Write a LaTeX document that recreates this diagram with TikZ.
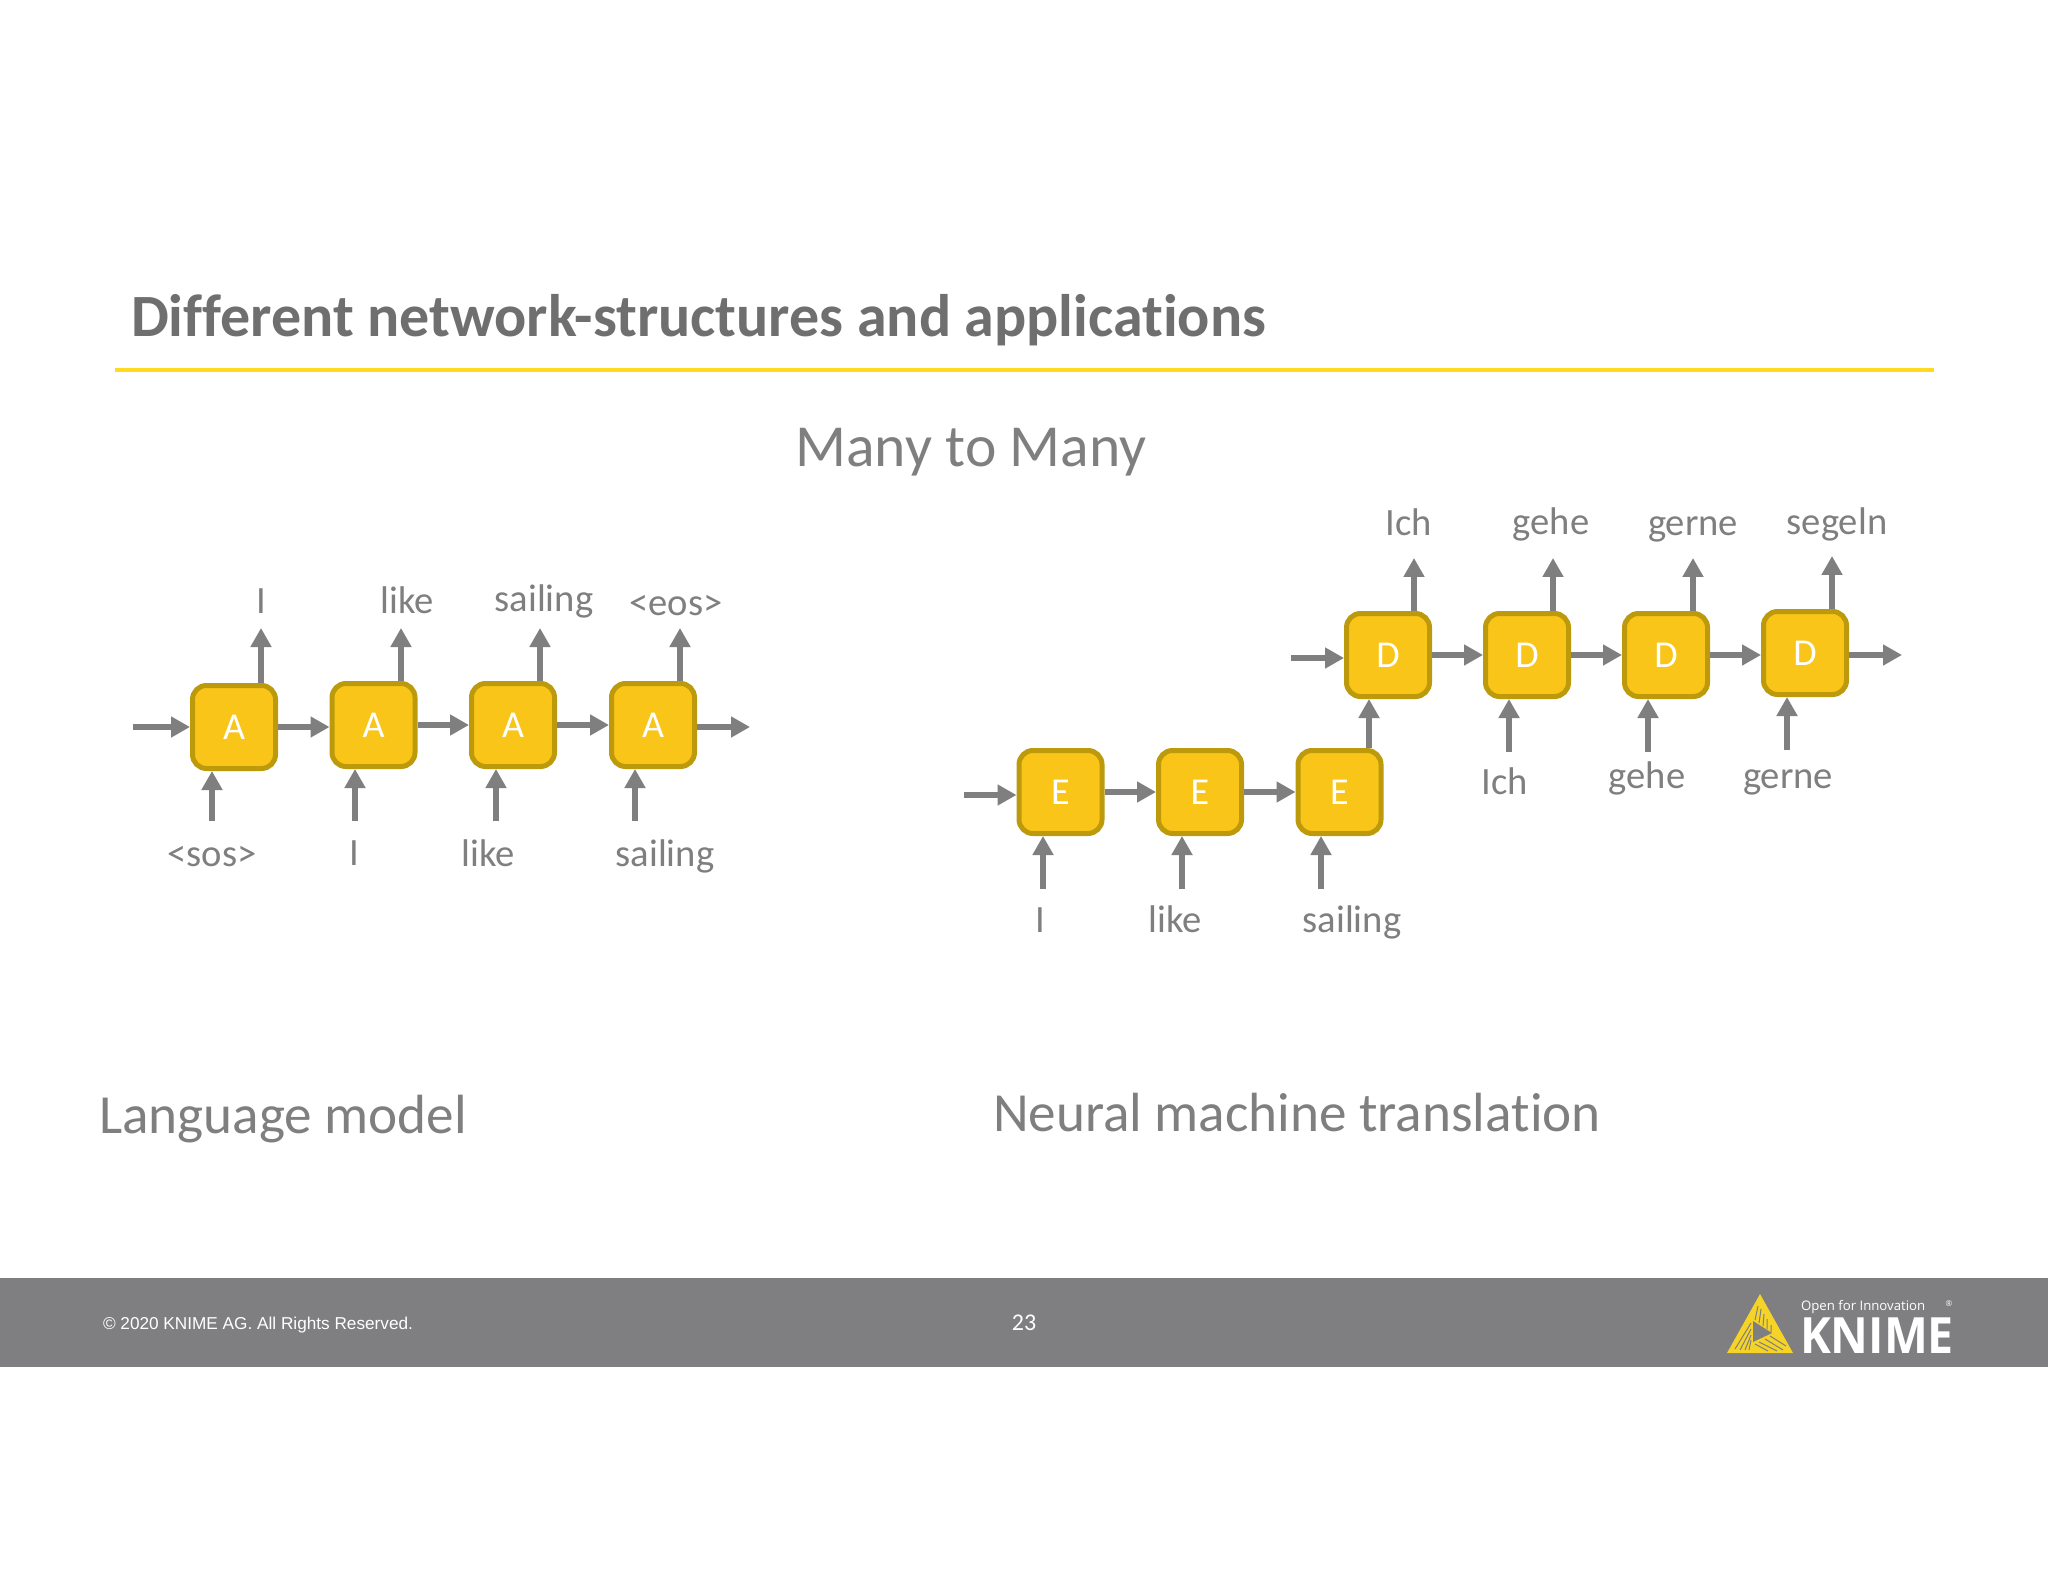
\documentclass[tikz,border=0pt]{standalone}
\usepackage{fontspec}
\setmainfont{Carlito}[Ligatures=NoCommon]
\newfontfamily\footfont{Liberation Sans}
\newfontfamily\logofont{Open Sans}
\newfontfamily\logoname{Open Sans}[FakeStretch=0.93]
\usetikzlibrary{arrows.meta,calc,positioning}
\definecolor{knimegray}{HTML}{7F7E80}
\definecolor{wordgray}{HTML}{7F7F7F}
\definecolor{titlegray}{HTML}{6F6F6F}
\definecolor{rulegold}{HTML}{FFDA1F}
\definecolor{boxfill}{HTML}{F9C518}
\definecolor{boxline}{HTML}{BD9A0C}
\definecolor{logogold}{HTML}{F5D327}

\begin{document}
\begin{tikzpicture}[x=0.5pt,y=-0.5pt,
  every node/.append style={inner sep=0pt,outer sep=0pt},
  cell/.style={draw=boxline,fill=boxfill,line width=2.5pt,rounded corners=7pt,
    minimum width=41.5pt,minimum height=41.5pt,outer sep=1.25pt,text=white,font=\fontsize{19}{19}\selectfont},
  flow/.style={draw=wordgray,line width=3.2pt,-{Triangle[length=9.5pt,width=10pt]}},
  word/.style={text=wordgray,font=\fontsize{19.3}{19.3}\selectfont,anchor=base},
  caption/.style={text=wordgray,font=\fontsize{27.6}{27.6}\selectfont,anchor=base west}]
  \useasboundingbox (0,0) rectangle (2048,1582);
  \fill[white] (0,0) rectangle (2048,1582);

  % slide head
  \node (title) [anchor=base west,text=titlegray,font=\fontsize{30}{30}\selectfont\bfseries] at (131,337) {Different network-structures and applications};
  \coordinate (rule_l) at (115,370);
  \coordinate (rule_r) at (1934,370);
  \draw[rulegold,line width=2pt] (rule_l) -- (rule_r);
  \node (many) [word,font=\fontsize{29.8}{29.8}\selectfont] at (971,467) {Many to Many};

  % language model
  \node (a_1) [cell] at (234,727) {A};
  \node (a_2) [cell] at (373.5,725) {A};
  \node (a_3) [cell] at (513,725) {A};
  \node (a_4) [cell] at (653,725) {A};
  \coordinate (a_in) at (133,727);
  \coordinate (a_out) at (750,727);
  \draw[flow] (a_in) -- (a_1);
  \draw[flow] (a_1.east) -- (a_2.west |- a_1.east);
  \draw[flow] (a_2) -- (a_3);
  \draw[flow] (a_3) -- (a_4);
  \draw[flow] (a_out -| a_4.east) -- (a_out);
  \coordinate (a_1_t) at (261,628);
  \coordinate (a_2_t) at (401,628);
  \coordinate (a_3_t) at (540,628);
  \coordinate (a_4_t) at (680,628);
  \draw[flow] (a_1_t |- a_1.north) -- (a_1_t);
  \draw[flow] (a_2_t |- a_2.north) -- (a_2_t);
  \draw[flow] (a_3_t |- a_3.north) -- (a_3_t);
  \draw[flow] (a_4_t |- a_4.north) -- (a_4_t);
  \coordinate (a_1_b) at (212,821);
  \coordinate (a_2_b) at (355,821);
  \coordinate (a_3_b) at (496,821);
  \coordinate (a_4_b) at (635,821);
  \draw[flow] (a_1_b) -- (a_1_b |- a_1.south);
  \draw[flow] (a_2_b) -- (a_2_b |- a_2.south);
  \draw[flow] (a_3_b) -- (a_3_b |- a_3.south);
  \draw[flow] (a_4_b) -- (a_4_b |- a_4.south);
  \node (a_1_w) [word] at (261,613) {I};
  \node (a_2_w) [word] at (407,613) {like};
  \node (a_3_w) [word] at (544,611) {sailing};
  \node (a_4_w) [word] at (676,615) {<eos>};
  \node (a_1_s) [word] at (212,866) {<sos>};
  \node (a_2_s) [word] at (354,865) {I};
  \node (a_3_s) [word] at (488,866) {like};
  \node (a_4_s) [word] at (665,866) {sailing};
  \node (lang) [caption] at (99,1133) {Language model};

  % translation
  \node (e_1) [cell] at (1060.5,792) {E};
  \node (e_2) [cell] at (1200,792) {E};
  \node (e_3) [cell] at (1339.5,792) {E};
  \node (d_1) [cell] at (1388,655) {D};
  \node (d_2) [cell] at (1527,655) {D};
  \node (d_3) [cell] at (1666,655) {D};
  \node (d_4) [cell] at (1805,653) {D};
  \coordinate (e_in) at (964,795);
  \draw[flow] (e_in) -- (e_in -| e_1.west);
  \draw[flow] (e_1) -- (e_2);
  \draw[flow] (e_2) -- (e_3);
  \coordinate (d_in) at (1291,658);
  \coordinate (d_out) at (1902,655);
  \draw[flow] (d_in) -- (d_in -| d_1.west);
  \draw[flow] (d_1) -- (d_2);
  \draw[flow] (d_2) -- (d_3);
  \draw[flow] (d_3.east) -- (d_4.west |- d_3.east);
  \draw[flow] (d_out -| d_4.east) -- (d_out);
  \coordinate (e_d) at (1369,720);
  \draw[flow] (e_d |- e_3.north) -- (e_d |- d_1.south);
  \coordinate (e_1_b) at (1043,889);
  \coordinate (e_2_b) at (1182,889);
  \coordinate (e_3_b) at (1321,889);
  \draw[flow] (e_1_b) -- (e_1_b |- e_1.south);
  \draw[flow] (e_2_b) -- (e_2_b |- e_2.south);
  \draw[flow] (e_3_b) -- (e_3_b |- e_3.south);
  \coordinate (d_1_t) at (1414,558);
  \coordinate (d_2_t) at (1553,558);
  \coordinate (d_3_t) at (1693,558);
  \coordinate (d_4_t) at (1832,556);
  \draw[flow] (d_1_t |- d_1.north) -- (d_1_t);
  \draw[flow] (d_2_t |- d_2.north) -- (d_2_t);
  \draw[flow] (d_3_t |- d_3.north) -- (d_3_t);
  \draw[flow] (d_4_t |- d_4.north) -- (d_4_t);
  \coordinate (d_2_b) at (1509,752);
  \coordinate (d_3_b) at (1648,752);
  \coordinate (d_4_b) at (1787,750);
  \draw[flow] (d_2_b) -- (d_2_b |- d_2.south);
  \draw[flow] (d_3_b) -- (d_3_b |- d_3.south);
  \draw[flow] (d_4_b) -- (d_4_b |- d_4.south);
  \node (e_1_w) [word] at (1040,932) {I};
  \node (e_2_w) [word] at (1175,932) {like};
  \node (e_3_w) [word] at (1352,932) {sailing};
  \node (d_1_s) [word] at (1505,794) {Ich};
  \node (d_2_s) [word] at (1647,788) {gehe};
  \node (d_3_s) [word] at (1788,788) {gerne};
  \node (d_1_w) [word] at (1409,536) {Ich};
  \node (d_2_w) [word] at (1551,535) {gehe};
  \node (d_3_w) [word] at (1693,536) {gerne};
  \node (d_4_w) [word] at (1837,535) {segeln};
  \node (nmt) [caption] at (993,1131) {Neural machine translation};

  % footer
  \fill[knimegray] (0,1278) rectangle (2048,1367);
  \node (copy) [anchor=base west,text=white,font=\fontsize{8.6}{8.6}\selectfont\footfont] at (103,1329) {© 2020 KNIME AG. All Rights Reserved.};
  \node (page) [anchor=base,text=white,font=\fontsize{12}{12}\selectfont] at (1024,1330) {23};

  % logo
  \fill[logogold] (1760,1294) -- (1793,1353) -- (1727,1353) -- cycle;
  \fill[knimegray] (1753,1321) -- (1753,1342) -- (1772,1333) -- cycle;
  \draw[knimegray,line width=0.5pt] (1758,1306) -- (1755,1320) (1761,1309) -- (1759,1323) (1764,1314) -- (1763,1326) (1767,1319) -- (1767,1329) (1771,1325) -- (1771,1332);
  \draw[knimegray,line width=0.5pt] (1786,1346) -- (1770,1336) (1783,1350) -- (1765,1339) (1777,1351) -- (1759,1342) (1768,1351) -- (1755,1344);
  \draw[knimegray,line width=0.5pt] (1735,1349) -- (1751,1323) (1740,1350) -- (1751,1329) (1745,1350) -- (1751,1335) (1749,1350) -- (1751,1340);
  \node (logo_tag) [anchor=base west,text=white,font=\fontsize{6.6}{6.6}\selectfont\logofont] at (1801,1310) {Open for Innovation};
  \node (logo_name) [anchor=base west,text=white,font=\fontsize{25}{25}\selectfont\logoname\bfseries] at (1800,1353) {KNIME};
  \node (logo_reg) [anchor=center,text=white,font=\fontsize{4}{4}\selectfont\logofont] at (1949,1304) {®};
\end{tikzpicture}
\end{document}
